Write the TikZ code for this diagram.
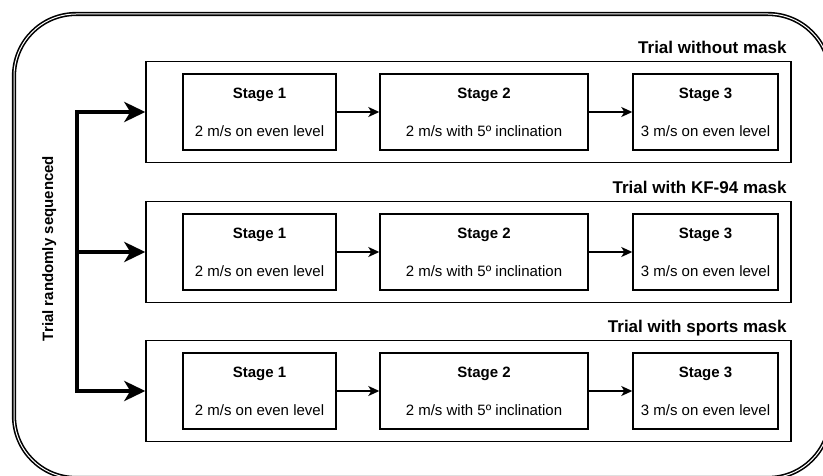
\documentclass[tikz,border=0pt]{standalone}
\usepackage{fontspec}
\setmainfont{Liberation Sans}
\usetikzlibrary{arrows.meta,calc}
\begin{document}
\begin{tikzpicture}[x=1pt,y=-1pt,
  trialbox/.style={draw, line width=1.4pt, minimum width=645pt, minimum height=101pt, inner sep=0pt},
  stagebox/.style={draw, line width=1.4pt, minimum height=76pt, inner sep=0pt},
  stagehead/.style={anchor=base, font=\fontsize{15}{18}\selectfont\bfseries, inner sep=0pt},
  stagetext/.style={anchor=base, font=\fontsize{15}{18}\selectfont, inner sep=0pt},
  trialtitle/.style={anchor=base east, font=\fontsize{17}{20}\selectfont\bfseries, inner sep=0pt},
  flow/.style={line width=1.5pt, -{Stealth[length=11pt,width=10pt,inset=3pt]}},
  bigtip/.tip={Stealth[length=21pt,width=20pt,inset=6pt]},
  bigflow/.style={line width=4pt, line join=miter}
]
\useasboundingbox (0,0) rectangle (823,476);
\clip (0,0) rectangle (823,476);

% outer frame
\draw[line width=1.6pt, double=white, double distance=1pt, rounded corners=62pt]
  (14,14) rectangle (830,478);

\foreach \i/\yc/\ttl in {1/112/{Trial without mask},2/252/{Trial with KF-94 mask},3/391/{Trial with sports mask}}{
  \node[trialbox] (t\i) at (468.5,\yc) {};
  \node[trialtitle] (tt\i) at ($(t\i.north east)+(-5,-7)$) {\ttl};
  \node[stagebox, minimum width=153pt] (s\i a) at (259.5,\yc) {};
  \node[stagebox, minimum width=208pt] (s\i b) at (484,\yc) {};
  \node[stagebox, minimum width=145pt] (s\i c) at (705.5,\yc) {};
  \foreach \k/\n/\d in {a/1/{2 m/s on even level},b/2/{2 m/s with 5º inclination},c/3/{3 m/s on even level}}{
    \node[stagehead] (h\i\k) at ($(s\i\k.north)+(0,25)$) {Stage \n};
    \node[stagetext] (d\i\k) at ($(s\i\k.north)+(0,63)$) {\d};
  }
  \draw[flow] (s\i a) -- (s\i b);
  \draw[flow] (s\i b) -- (s\i c);
}

% randomisation connector
\coordinate (sx) at (77,0);
\draw[bigflow, {bigtip}-{bigtip}] (t1.west) -- (sx |- t1.west) -- (sx |- t3.west) -- (t3.west);
\draw[bigflow, -{bigtip}] (sx |- t2.west) -- (t2.west);

\node[rotate=90, anchor=base, font=\fontsize{15}{18}\selectfont\bfseries, inner sep=0pt] (rs) at (53,248.5) {Trial randomly sequenced};
\end{tikzpicture}
\end{document}
